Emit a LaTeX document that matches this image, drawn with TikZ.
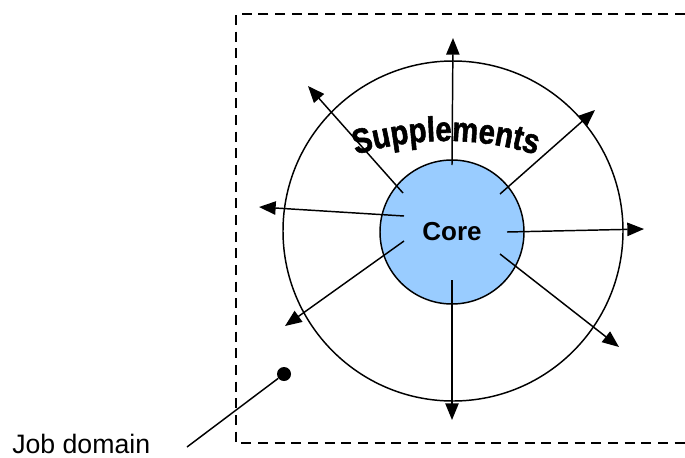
\documentclass[tikz,border=0pt]{standalone}
\usepackage{fontspec}
\setmainfont{Liberation Sans}
\newfontfamily\suppfont[FakeStretch=0.84, FakeBold=1.6]{Liberation Sans Bold}
\usetikzlibrary{arrows.meta,%
                shapes,positioning,
                decorations.text}

\begin{document}
\begin{tikzpicture}[x=0.75pt, y=-0.75pt]
  \tikzset{RingStyle/.style = {shape        = circle,
                               draw         = black,
                               line width   = 1.1pt,
                               inner sep    = 0pt,
                               outer sep    = 0pt}}
  \useasboundingbox (0,0) rectangle (685,457);
    \begin{scope}[arrow/.style={line width=1.1pt, -{Triangle[length=12.5pt, width=10pt]}},
                  jobframe/.style={line width=1.5pt, dash pattern=on 7.5pt off 5pt}]
	%%% DOMAINE %%%
	\draw[jobframe] (685,14) -- (236,14) -- (236,443) -- (685,443);
	%%% ANNEAUX %%%
	\node[RingStyle, minimum size=255pt](ring) at (453,231){};
	\node[RingStyle, minimum size=108pt, fill={rgb,255:red,153;green,204;blue,255},
	      font=\bfseries\fontsize{19.5}{22}\selectfont](core) at (452,232){Core};
	%
	\path[decorate, decoration={text along path, text align=center,
	      text={|\suppfont\fontsize{26}{30}\selectfont|Supplements}}]
	      (446,443) ++(-118:302) arc[start angle=-118, end angle=-62, radius=302];
	%%% FLECHES %%%
	\coordinate (s1) at (452,165); \coordinate (e1) at (453,38);
	\coordinate (s2) at (403,193); \coordinate (e2) at (308,86);
	\coordinate (s3) at (500,194); \coordinate (e3) at (595,110);
	\coordinate (s4) at (404,216); \coordinate (e4) at (259,207);
	\coordinate (s5) at (507,232); \coordinate (e5) at (644,229);
	\coordinate (s6) at (404,241); \coordinate (e6) at (285,326);
	\coordinate (s7) at (500,254); \coordinate (e7) at (619,347);
	\coordinate (s8) at (452,280); \coordinate (e8) at (452,420);
	\foreach \i in {1,...,8}
	  \draw[arrow] (s\i) -- (e\i);
	%%% LEGENDE %%%
	\node[circle, fill=black, inner sep=0pt, minimum size=10.5pt](dot) at (284,374){};
	\node[anchor=base west, inner sep=0pt, font=\fontsize{20}{24}\selectfont](job) at (12,453){Job domain};
	\coordinate (lead) at (187,447);
	\draw[line width=1.1pt] (lead) -- (dot);
  \end{scope}
\end{tikzpicture}
\end{document}
